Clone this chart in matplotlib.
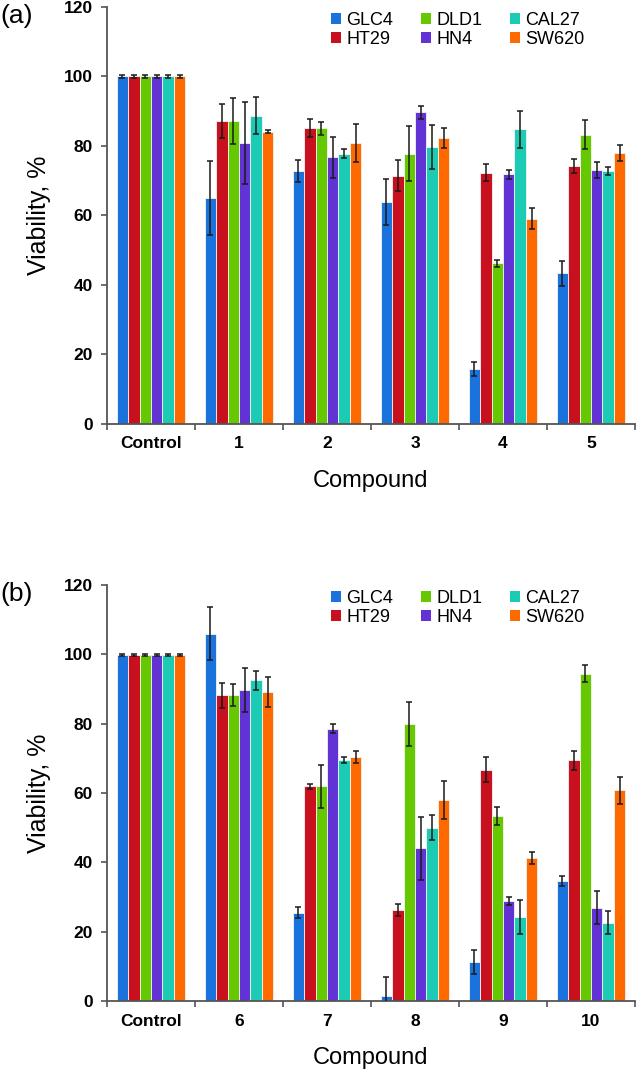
import numpy as np
import matplotlib
matplotlib.use('Agg')
import matplotlib.pyplot as plt
from matplotlib.patches import Patch

plt.rcParams['font.family'] = ['Liberation Sans', 'DejaVu Sans']

# Data
cell_lines = ['GLC4', 'HT29', 'DLD1', 'HN4', 'CAL27', 'SW620']
colors = ['#1a73dc', '#c8101e', '#66c800', '#6233d4', '#1ccbb4', '#ff6a00']

groups_a = ['Control', '1', '2', '3', '4', '5']
vals_a = {
    'GLC4':  [100, 65.1, 72.8, 63.9, 15.8, 43.4],
    'HT29':  [100, 87.2, 85.1, 71.5, 72.3, 74.2],
    'DLD1':  [100, 87.2, 85.1, 77.8, 46.2, 83.2],
    'HN4':   [100, 80.9, 76.7, 89.7, 71.9, 73.0],
    'CAL27': [100, 88.7, 77.8, 79.7, 84.8, 72.8],
    'SW620': [100, 84.1, 80.9, 82.3, 59.1, 78.1],
}
err_a = {
    'GLC4':  [0.3, 10.6, 3.2, 6.6, 2.1, 3.6],
    'HT29':  [0.3, 5.0, 2.6, 4.5, 2.5, 2.1],
    'DLD1':  [0.3, 6.6, 1.8, 8.0, 0.9, 4.2],
    'HN4':   [0.3, 11.9, 5.8, 1.9, 1.3, 2.3],
    'CAL27': [0.3, 5.3, 1.2, 6.4, 5.3, 1.1],
    'SW620': [0.3, 0.5, 5.4, 3.0, 3.1, 2.3],
}

groups_b = ['Control', '6', '7', '8', '9', '10']
vals_b = {
    'GLC4':  [99.7, 106.0, 25.4, 1.4, 11.3, 34.7],
    'HT29':  [99.7, 88.2, 61.9, 26.3, 66.7, 69.4],
    'DLD1':  [99.7, 88.2, 61.9, 79.9, 53.4, 94.4],
    'HN4':   [99.7, 89.8, 78.6, 44.0, 28.8, 26.9],
    'CAL27': [99.7, 92.5, 69.6, 50.0, 24.2, 22.6],
    'SW620': [99.7, 89.1, 70.4, 58.0, 41.2, 60.8],
}
err_b = {
    'GLC4':  [0.3, 7.7, 1.6, 5.4, 3.4, 1.5],
    'HT29':  [0.3, 3.6, 0.8, 1.7, 3.6, 2.8],
    'DLD1':  [0.3, 3.2, 6.1, 6.4, 2.6, 2.4],
    'HN4':   [0.3, 6.4, 1.2, 9.2, 1.2, 4.7],
    'CAL27': [0.3, 2.8, 0.9, 3.7, 4.8, 3.3],
    'SW620': [0.3, 4.3, 1.7, 5.4, 1.7, 3.9],
}

W, H = 636, 1069
fig = plt.figure(figsize=(W / 100, H / 100), dpi=100)


def make_axes(top_px, bottom_px):
    left, right = 107, 635
    return fig.add_axes([left / W, 1 - bottom_px / H,
                         (right - left) / W, (bottom_px - top_px) / H])


def draw_panel(ax, groups, vals, errs, tag, tag_y):
    x = np.arange(len(groups))
    bw = 0.13
    for i, name in enumerate(cell_lines):
        offs = (i - 2.5) * bw
        ax.bar(x + offs, vals[name], bw, color=colors[i],
               edgecolor='#f4f4f4', linewidth=0.6, zorder=2)
        ax.errorbar(x + offs, vals[name], yerr=errs[name], fmt='none',
                    ecolor='#1a1a1a', elinewidth=1.1, capsize=2.5,
                    capthick=1.1, zorder=3)

    ax.set_xlim(-0.5, len(groups) - 0.5)
    ax.set_ylim(0, 120)
    ax.set_yticks(np.arange(0, 121, 20))
    ax.set_xticks(x)
    ax.set_xticklabels(groups)
    ax.set_xticks(np.arange(-0.5, len(groups), 1.0), minor=True)
    ax.tick_params(axis='x', which='major', length=0, pad=9)
    ax.tick_params(axis='x', which='minor', length=4, width=1.2,
                   color='#555555', direction='out')
    ax.tick_params(axis='y', length=4, width=1.2, color='#555555',
                   direction='out', pad=6)
    for lab in ax.get_xticklabels() + ax.get_yticklabels():
        lab.set_fontweight('bold')
        lab.set_fontsize(12.5)
    for s in ['top', 'right']:
        ax.spines[s].set_visible(False)
    for s in ['left', 'bottom']:
        ax.spines[s].set_color('#555555')
        ax.spines[s].set_linewidth(1.3)

    ax.set_xlabel('Compound', fontsize=17, labelpad=13)
    ax.set_ylabel('Viability, %', fontsize=18, labelpad=9)
    fig.text(0 / W, 1 - tag_y / H, tag, fontsize=19, va='center', ha='left')

    handles = [Patch(facecolor=colors[i], edgecolor='none')
               for i in range(len(cell_lines))]
    ax.legend(handles, cell_lines, ncol=3, frameon=False, fontsize=13,
              loc='upper left', bbox_to_anchor=(0.41, 1.005),
              handlelength=0.55, handleheight=0.55, handletextpad=0.3,
              columnspacing=1.55, labelspacing=0.1, borderaxespad=0.0)


ax_a = make_axes(7, 424)
draw_panel(ax_a, groups_a, vals_a, err_a, '(a)', 16)

ax_b = make_axes(585, 1001)
draw_panel(ax_b, groups_b, vals_b, err_b, '(b)', 594)

fig.savefig('out.png', dpi=100)
